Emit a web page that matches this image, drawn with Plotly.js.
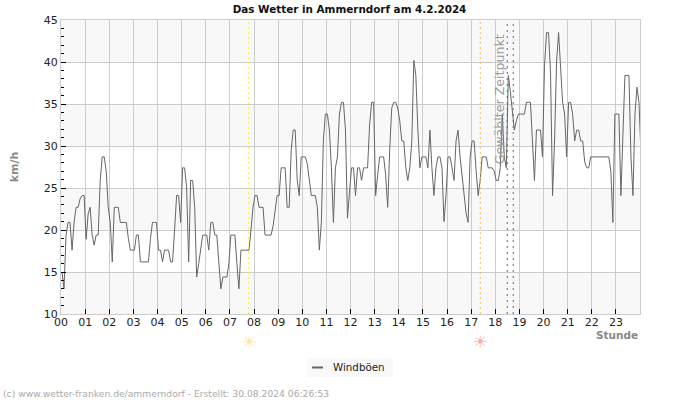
<!DOCTYPE html>
<html><head><meta charset="utf-8">
<script src="https://cdn.plot.ly/plotly-3.0.1.min.js"></script>
<style>html,body{margin:0;padding:0;background:#fff}#c{width:700px;height:400px}</style>
</head><body><div id="c"></div>
<script>
const hourLabels=["00","01","02","03","04","05","06","07","08","09","10","11","12","13","14","15","16","17","18","19","20","21","22","23"];
const h00=[15,13,19.4,20.9,20.9,17.6,20.9,22.7,22.7,23.7,24.1,24.1];
const h01=[18.9,21.9,22.7,19.4,18.2,19.4,19.4,25.9,28.7,28.7,27,22.7];
const h02=[20.9,16.2,22.7,22.7,22.7,20.9,20.9,20.9,20.9,19,17.6,17.6];
const h03=[17.6,19.4,19.4,16.2,16.2,16.2,16.2,16.2,19,20.9,20.9,20.9];
const h04=[17.6,17.6,16.2,17.6,17.6,17.6,16.2,16.2,20,24.1,24.1,20.9];
const h05=[27.4,27.4,25,16.2,25.9,25.9,22.7,14.4,16,18,19.4,19.4];
const h06=[19.4,17.6,20.9,20.9,19.4,19.4,16,13,14.4,14.4,14.4,16];
const h07=[19.4,19.4,19.4,16,13,17.6,17.6,17.6,17.6,17.6,20,22.7];
const h08=[24.1,24.1,22.7,22.7,22.7,19.4,19.4,19.4,19.4,20.5,22.7,24.1];
const h09=[24.1,27.4,27.4,27.4,22.7,22.7,29.5,31.9,31.9,25.9,24.1,28.7];
const h10=[28.7,28.7,27.9,25.9,24.1,24.1,24.1,22.7,17.6,20.9,30.6,33.8];
const h11=[33.8,31.9,27.4,20.9,27.4,28.7,33.8,35.2,35.2,31.9,21.4,24.5];
const h12=[27.4,27.4,24.1,27.4,27.4,25.9,27.4,27.4,27.4,32.5,35.2,35.2];
const h13=[24.1,26.5,28.7,28.7,28.7,26.5,22.7,29.5,34.5,35.2,35.2,34.5];
const h14=[33,30.6,30.6,27.4,25.9,27.4,30.6,40.2,38.4,32,27.4,28.7];
const h15=[28.7,28.7,27.4,31.9,27.4,24.1,27.4,28.7,28.7,27.4,21,24.1];
const h16=[28.7,28.7,27.4,25.9,30.6,31.9,28.7,26.5,24.1,22,20.9,28.7];
const h17=[30.6,30.6,27,24.1,25.9,28.7,28.7,28.7,27.4,27.4,27.4,27];
const h18=[25.9,25.9,27.4,33.8,28.7,27.4,38.4,36.5,33.8,31.9,33,33.8];
const h19=[33.8,33.8,33.8,35.2,35.2,35.2,30.6,25.9,31.9,31.9,31.9,28.7];
const h20=[39.5,43.5,43.5,38.7,24.1,30.6,40,43.5,40,35.2,33.8,28.7];
const h21=[35.2,35.2,33.8,30.6,31.9,31.9,30.6,30.6,28.1,27.4,27.4,28.7];
const h22=[28.7,28.7,28.7,28.7,28.7,28.7,28.7,28.7,28.7,27,20.9,33.8];
const h23=[33.8,33.8,24.1,31.9,38.4,38.4,38.4,28.7,24.1,33.8,37,35.2,29];
const gust=[...h00,...h01,...h02,...h03,...h04,...h05,...h06,...h07,...h08,...h09,...h10,...h11,...h12,...h13,...h14,...h15,...h16,...h17,...h18,...h19,...h20,...h21,...h22,...h23];
const sampleHours=gust.map((_,i)=>(i+0.5)*5/60);
const sunrise=7.779, sunset=17.379, selected=[18.497,18.745];
const bandStarts=[10,20,30,40];

const F='"DejaVu Sans",sans-serif';
const px=x=>(x-60.5)/580, py=y=>(314-y)/294;
const shapes=[
 ...bandStarts.map(b=>({type:'rect',layer:'below',xref:'paper',x0:0,x1:1,yref:'y',y0:b,y1:b+5,fillcolor:'#f8f8f8',line:{width:0}})),
 {type:'line',xref:'x',yref:'paper',x0:sunrise,x1:sunrise,y0:0,y1:1,line:{color:'#ffee33',width:1,dash:'2px,3px'}},
 {type:'line',xref:'x',yref:'paper',x0:sunset,x1:sunset,y0:0,y1:1,line:{color:'#ffbb44',width:1,dash:'2px,3px'}},
 ...selected.map(s=>({type:'line',xref:'x',yref:'paper',x0:s,x1:s,y0:0,y1:1,line:{color:'#666666',width:1,dash:'2px,4px'}})),
 {type:'rect',layer:'below',xref:'paper',yref:'paper',x0:px(307),x1:px(393),y0:py(377),y1:py(358),fillcolor:'#f8f8f8',line:{width:0}},
 {type:'line',xref:'paper',yref:'paper',x0:px(312),x1:px(323),y0:py(367.5),y1:py(367.5),line:{color:'#666666',width:2}}
];
const annotations=[
 {text:'Gewählter Zeitpunkt',xref:'paper',yref:'paper',x:px(500),y:py(99.5),xanchor:'center',yanchor:'middle',textangle:-90,showarrow:false,font:{family:F,size:12.6,color:'#999999'}},
 {text:'☀',xref:'x',yref:'paper',x:sunrise,y:py(341),xanchor:'center',yanchor:'middle',showarrow:false,font:{family:F,size:16,color:'#ffe79a'}},
 {text:'☀',xref:'x',yref:'paper',x:sunset,y:py(341),xanchor:'center',yanchor:'middle',showarrow:false,font:{family:F,size:16,color:'#ffb0a0'}},
 {text:'<b>Stunde</b>',xref:'paper',yref:'paper',x:px(640),y:py(335),xanchor:'right',yanchor:'middle',showarrow:false,font:{family:F,size:10.5,color:'#888888'}},
 {text:'Windböen',xref:'paper',yref:'paper',x:px(331),y:py(366.5),xanchor:'left',yanchor:'middle',showarrow:false,font:{family:F,size:10.3,color:'#222222'}},
 {text:'(c) www.wetter-franken.de/ammerndorf - Erstellt: 30.08.2024 06:26:53',xref:'paper',yref:'paper',x:px(0),y:py(393),xanchor:'left',yanchor:'middle',showarrow:false,font:{family:F,size:9.2,color:'#aaaaaa'}}
];
Plotly.newPlot('c',[
 {x:sampleHours,y:gust,name:'Windböen',type:'scatter',mode:'lines',showlegend:false,line:{color:'#666666',width:1}}
],{
 width:700,height:400,
 margin:{l:60.5,r:59.5,t:20,b:86,pad:0},
 paper_bgcolor:'#fff',plot_bgcolor:'#fff',
 title:{text:'<b>Das Wetter in Ammerndorf am 4.2.2024</b>',x:349.5/700,xanchor:'center',y:0.9755,yanchor:'middle',font:{family:F,size:10.4,color:'#111'}},
 showlegend:false,
 xaxis:{range:[0,24],tickmode:'array',tickvals:hourLabels.map((_,i)=>i),ticktext:hourLabels,ticks:'inside',ticklen:5,tickcolor:'#000',ticklabelstandoff:-2,tickfont:{family:F,size:11,color:'#222'},showgrid:true,gridcolor:'#cccccc',gridwidth:1,zeroline:false,showline:true,mirror:true,linecolor:'#cccccc'},
 yaxis:{range:[10,45],dtick:5,ticks:'inside',ticklen:5,tickcolor:'#000',tickfont:{family:F,size:11,color:'#222'},showgrid:true,gridcolor:'#cccccc',gridwidth:1,zeroline:false,showline:true,mirror:true,linecolor:'#cccccc',
  minor:{dtick:1,ticks:'inside',ticklen:3,tickcolor:'#000',showgrid:false},
  title:{text:'<b>km/h</b>',standoff:22,font:{family:F,size:11,color:'#888888'}}},
 shapes,annotations
},{displayModeBar:false,responsive:false});
</script></body></html>
